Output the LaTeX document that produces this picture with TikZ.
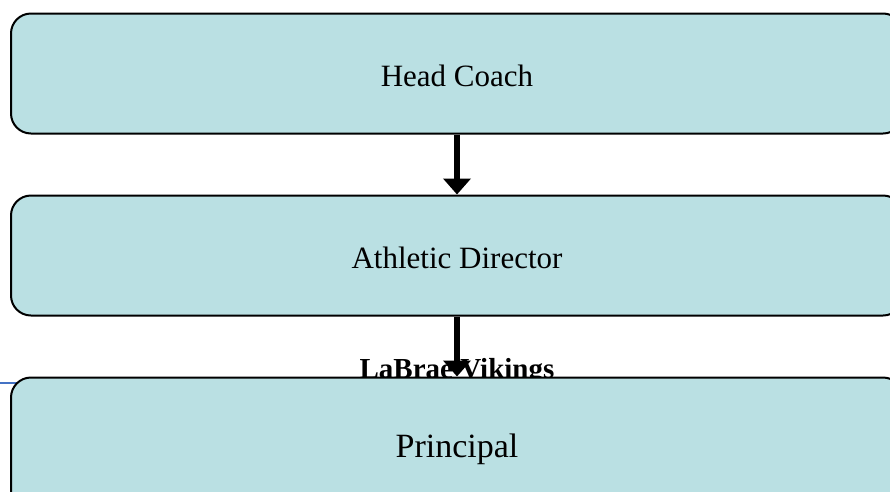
\documentclass[tikz,border=0pt]{standalone}
\usepackage{fontspec}
\setmainfont{Liberation Serif}
\usetikzlibrary{arrows.meta,positioning}
\definecolor{boxfill}{RGB}{186,224,227}
\definecolor{ruleblue}{RGB}{68,114,196}

\begin{document}
\begin{tikzpicture}[x=1pt,y=-1pt,
  stage/.style={rectangle,rounded corners=20pt,draw,line width=2pt,fill=boxfill,
    minimum width=892pt,minimum height=120pt,text depth=0pt,text height=25pt,
    font=\fontsize{31}{37}\selectfont},
  link/.style={-{Triangle[width=27pt,length=16pt]},line width=5.5pt}]
\useasboundingbox (0,0) rectangle (890,491);
% Blue rule behind the last box
\coordinate (rule_start) at (0,383);
\coordinate (rule_end) at (60,383);
\draw[ruleblue,line width=1.5pt] (rule_start) -- (rule_end);
% Define all the nodes.
% Head coach
\node[stage] (head_coach) at (457,73.5) {Head Coach};
% Athletic director
\node[stage] (athletic_dir) at (457,255.5) {Athletic Director};
% Team title
\node[anchor=base,font=\bfseries\fontsize{29}{35}\selectfont] (team) at (457,378.5) {LaBrae Vikings};
% Principal
\node[stage,minimum height=134pt,font=\fontsize{34}{40}\selectfont] (principal) at (457,444.5) {Principal};
% Draw the arrows
\draw[link] (head_coach) -- (athletic_dir);
\draw[link] (athletic_dir) -- (principal);
\end{tikzpicture}
\end{document}
